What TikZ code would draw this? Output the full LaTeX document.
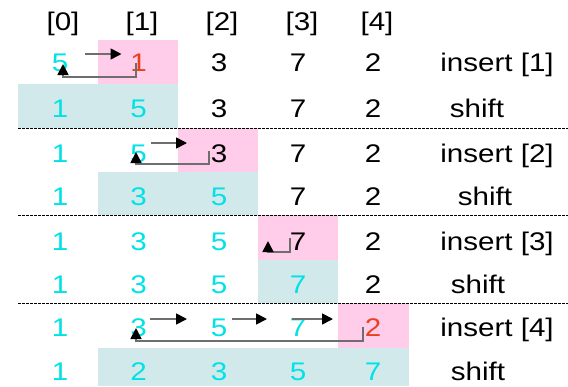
\documentclass[tikz,border=0pt]{standalone}
\usepackage{fontspec}
\setmainfont{Liberation Sans}[FakeStretch=1.16]
\usetikzlibrary{arrows.meta}
\definecolor{sortedcyan}{RGB}{0,226,230}
\definecolor{insertred}{RGB}{234,64,32}
\definecolor{pickpink}{RGB}{255,204,234}
\definecolor{shiftblue}{RGB}{209,233,235}
\definecolor{movegray}{RGB}{110,110,110}

\begin{document}
\begin{tikzpicture}[x=1pt,y=-1pt,>={Triangle[length=11pt,width=11pt,color=black]},
  txt/.style={anchor=base,inner sep=0pt,font=\fontsize{25.5}{30}\selectfont},
  done/.style={txt,text=sortedcyan},
  hot/.style={txt,text=insertred},
  todo/.style={txt},
  pick/.style={fill=pickpink},
  moved/.style={fill=shiftblue},
  rowsep/.style={line width=0.7pt,dash pattern=on 2.5pt off 1.5pt},
  move/.style={->,draw=movegray,line width=1.7pt}]
  \useasboundingbox (0,0) rectangle (568,386);
  \fill[pick] (98,40) rectangle (178,84);
  \fill[moved] (18,84) rectangle (178,128);
  \fill[pick] (178,128) rectangle (258,172);
  \fill[moved] (98,172) rectangle (258,215);
  \fill[pick] (258,215) rectangle (338,260);
  \fill[moved] (258,260) rectangle (338,303);
  \fill[pick] (338,303) rectangle (409,348);
  \fill[moved] (98,348) rectangle (409,386);
  \foreach \y in {128,215,303}
    \draw[rowsep] (18,\y) -- (568,\y);

  \foreach \x [count=\k from 0] in {63,142,222,302,377}
    \node[todo] (idx\k) at (\x,30) {[\k]};

  \foreach \x/\v/\s [count=\k from 0] in {60/5/done,138.5/1/hot,219/3/todo,298/7/todo,373/2/todo}
    \node[\s] (r1c\k) at (\x,71) {\v};
  \foreach \x/\v/\s [count=\k from 0] in {60/1/done,138.5/5/done,219/3/todo,298/7/todo,373/2/todo}
    \node[\s] (r2c\k) at (\x,117) {\v};
  \foreach \x/\v/\s [count=\k from 0] in {60/1/done,138.5/5/done,219/3/todo,298/7/todo,373/2/todo}
    \node[\s] (r3c\k) at (\x,162) {\v};
  \foreach \x/\v/\s [count=\k from 0] in {60/1/done,138.5/3/done,219/5/done,298/7/todo,373/2/todo}
    \node[\s] (r4c\k) at (\x,205) {\v};
  \foreach \x/\v/\s [count=\k from 0] in {60/1/done,138.5/3/done,219/5/done,298/7/todo,373/2/todo}
    \node[\s] (r5c\k) at (\x,250) {\v};
  \foreach \x/\v/\s [count=\k from 0] in {60/1/done,138.5/3/done,219/5/done,298/7/done,373/2/todo}
    \node[\s] (r6c\k) at (\x,293) {\v};
  \foreach \x/\v/\s [count=\k from 0] in {60/1/done,138.5/3/done,219/5/done,298/7/done,373/2/hot}
    \node[\s] (r7c\k) at (\x,336) {\v};
  \foreach \x/\v/\s [count=\k from 0] in {60/1/done,138.5/2/done,219/3/done,298/5/done,373/7/done}
    \node[\s] (r8c\k) at (\x,380) {\v};

  \node[todo] (step1) at (497,71) {insert [1]};
  \node[todo] (shift1) at (477,117) {shift};
  \node[todo] (step2) at (497,162) {insert [2]};
  \node[todo] (shift2) at (485,205) {shift};
  \node[todo] (step3) at (497,250) {insert [3]};
  \node[todo] (shift3) at (478,293) {shift};
  \node[todo] (step4) at (497,336) {insert [4]};
  \node[todo] (shift4) at (478,380) {shift};

  \draw[move] ([shift={(25,-17)}]r1c0.base) -- ([shift={(-17,-17)}]r1c1.base);
  \draw[move] ([shift={(-2.5,-8)}]r1c1.base) |- ([shift={(3,6)}]r1c0.base)
    -- ([shift={(3,-7)}]r1c0.base);
  \draw[move] ([shift={(12.5,-19)}]r3c1.base) -- ([shift={(-32,-19)}]r3c2.base);
  \draw[move] ([shift={(-10,-11)}]r3c2.base) |- ([shift={(-2.5,2)}]r3c1.base)
    -- ([shift={(-2.5,-10)}]r3c1.base);
  \draw[move] ([shift={(-8,-12)}]r5c3.base) |- ([shift={(-30,2)}]r5c3.base)
    -- ([shift={(-30,-9)}]r5c3.base);
  \draw[move] ([shift={(11.5,-17)}]r7c1.base) -- ([shift={(-32,-17)}]r7c2.base);
  \draw[move] ([shift={(13,-17)}]r7c2.base) -- ([shift={(-31,-17)}]r7c3.base);
  \draw[move] ([shift={(-6,-17)}]r7c3.base) -- ([shift={(-40,-17)}]r7c4.base);
  \draw[move] ([shift={(-10,-9)}]r7c4.base) |- ([shift={(-2.5,5)}]r7c1.base)
    -- ([shift={(-2.5,-8)}]r7c1.base);
\end{tikzpicture}
\end{document}
